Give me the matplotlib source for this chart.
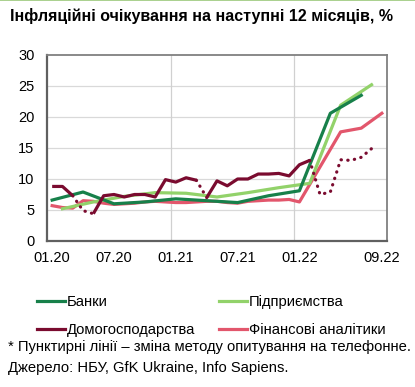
import matplotlib
matplotlib.use("Agg")
import matplotlib.pyplot as plt
from matplotlib.lines import Line2D

plt.rcParams['font.family'] = ['Liberation Sans', 'DejaVu Sans']

# month index: 0 = 01.20 ... 32 = 09.22
tick_idx = [0, 6, 12, 18, 24, 32]
tick_labels = ['01.20', '07.20', '01.21', '07.21', '01.22', '09.22']

banks_x = [0, 3, 6, 9, 12, 15, 18, 21, 24, 27, 30]
banks_y = [6.6, 7.9, 6.0, 6.3, 6.8, 6.5, 6.2, 7.3, 8.1, 20.6, 23.5]

firms_x = [1, 4, 7, 10, 13, 16, 19, 22, 25, 28, 31]
firms_y = [5.2, 6.3, 7.2, 7.8, 7.7, 7.1, 7.8, 8.6, 9.3, 21.9, 25.2]

house_x = list(range(0, 32))
house_y = [8.8, 8.8, 7.3, 4.9, 4.4, 7.3, 7.5, 7.1, 7.5, 7.5, 7.1, 9.9,
           9.5, 10.2, 9.8, 7.0, 9.7, 8.9, 10.0, 10.0, 10.8, 10.8, 10.9, 10.5,
           12.3, 13.0, 7.5, 7.9, 13.1, 13.0, 13.5, 14.9]
# (start, end) indices of households parts surveyed by phone (dotted)
phone_parts = [(2, 4), (14, 15), (25, 31)]

anal_x = list(range(0, 25)) + [28, 30, 32]
anal_y = [5.7, 5.4, 5.3, 6.5, 6.4, 6.1, 5.9, 6.0, 6.1, 6.3, 6.4, 6.3,
          6.2, 6.2, 6.3, 6.4, 6.4, 6.2, 6.1, 6.4, 6.5, 6.6, 6.6, 6.7,
          6.3, 17.6, 18.2, 20.6]

c_banks = '#17804A'
c_firms = '#92D26A'
c_house = '#7A0B2F'
c_anal = '#E2566C'
lw = 2.3

fig = plt.figure(figsize=(4.15, 3.87), dpi=100)
ax = fig.add_axes([47/415, 1 - 241/387, 340/415, 186/387])

ax.set_xlim(0, 33)
ax.set_ylim(0, 30)
ax.set_yticks(range(0, 31, 5))
for v in range(5, 30, 5):
    ax.axhline(v, color='#d9d9d9', lw=0.9, zorder=0)
for v in [12, 24]:
    ax.axvline(v, color='#d0d0d0', lw=0.9, zorder=0)

def sh(xs):
    return [x + 0.5 for x in xs]

ax.plot(sh(firms_x), firms_y, color=c_firms, lw=lw, zorder=3)
ax.plot(sh(banks_x), banks_y, color=c_banks, lw=lw, zorder=4)
ax.plot(sh(anal_x), anal_y, color=c_anal, lw=lw, zorder=2)

# households: solid parts, dotted parts
cuts = [0]
for a, b in phone_parts:
    cuts += [a, b]
cuts.append(len(house_x) - 1)
for k in range(0, len(cuts) - 1, 2):
    a, b = cuts[k], cuts[k + 1]
    if b > a:
        ax.plot(sh(house_x[a:b + 1]), house_y[a:b + 1], color=c_house,
                lw=lw, zorder=5, solid_capstyle='butt')
for a, b in phone_parts:
    ax.plot(sh(house_x[a:b + 1]), house_y[a:b + 1], color=c_house,
            lw=lw, ls=(0, (0.1, 2.0)), dash_capstyle='round', zorder=5)

ax.set_xticks(sh(tick_idx))
ax.set_xticklabels(tick_labels)
ax.tick_params(axis='x', length=0, pad=7, labelsize=10.5)
ax.tick_params(axis='y', length=0, pad=9, labelsize=10.5)
for s in ax.spines.values():
    s.set_color('#808080')
    s.set_linewidth(1.3)
ax.spines['left'].set_color('#606060')
ax.spines['bottom'].set_color('#606060')
ax.spines['left'].set_linewidth(1.6)
ax.spines['bottom'].set_linewidth(1.6)

fig.text(10/415, 1 - 16/387, 'Інфляційні очікування на наступні 12 місяців, %',
         fontsize=11.5, fontweight='bold', va='center', ha='left')
fig.add_artist(Line2D([0, 1], [0.999, 0.999], color='#9bc87a', lw=1.2))

handles = [Line2D([], [], color=c_banks, lw=lw),
           Line2D([], [], color=c_house, lw=lw),
           Line2D([], [], color=c_firms, lw=lw),
           Line2D([], [], color=c_anal, lw=lw)]
labels = ['Банки', 'Домогосподарства', 'Підприємства', 'Фінансові аналітики']
fig.legend(handles, labels, ncol=2, loc='upper left',
           bbox_to_anchor=(37/415, 1 - 295/387), frameon=False,
           fontsize=10.6, handlelength=1.9, handletextpad=0.1,
           columnspacing=1.65, labelspacing=0.95, borderpad=0, borderaxespad=0)

fig.text(8/415, 1 - 347/387,
         '* Пунктирні лінії – зміна методу опитування на телефонне.',
         fontsize=10.6, va='center', ha='left')
fig.text(8/415, 1 - 368/387, 'Джерело: НБУ, GfK Ukraine, Info Sapiens.',
         fontsize=10.6, va='center', ha='left')

fig.savefig('out.png', dpi=100)
